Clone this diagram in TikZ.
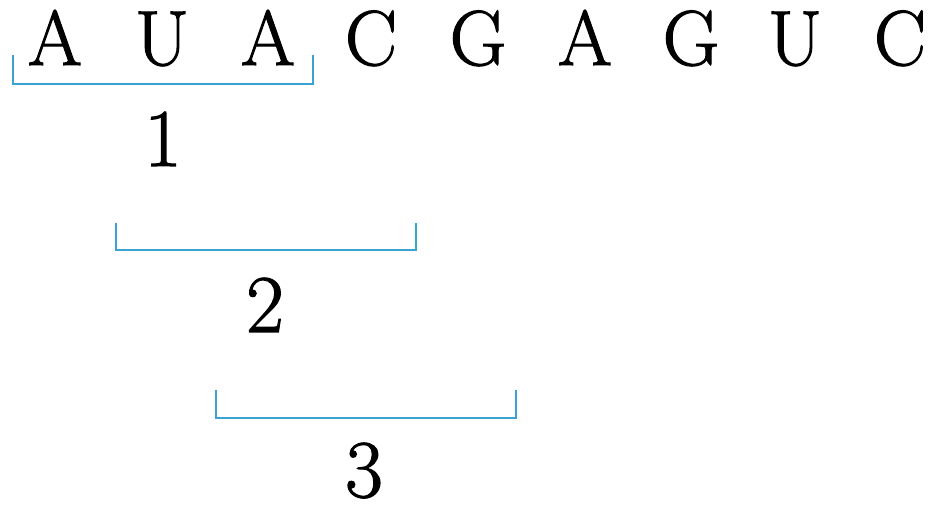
\documentclass[tikz,border=0pt]{standalone}
\usepackage{fontspec}
\usepackage{xcolor}
\newfontfamily\seqfont{Latin Modern Roman}[FakeBold=1.4]
\definecolor{bracketblue}{RGB}{58,163,210}
\begin{document}
\begin{tikzpicture}[x=1pt,y=-1pt,
  base/.style={anchor=base,inner sep=0pt,font=\seqfont\fontsize{78}{90}\selectfont},
  idx/.style={anchor=base,inner sep=0pt,font=\seqfont\fontsize{82}{96}\selectfont},
  bracket/.style={draw=bracketblue,line width=2.9pt,line join=miter}]
\useasboundingbox (0,0) rectangle (930,505);
% RNA sequence
\node[base] (n1) at (55,65) {A};
\node[base] (n2) at (162,65) {U};
\node[base] (n3) at (268,65) {A};
\node[base] (n4) at (371,65) {C};
\node[base] (n5) at (478,65) {G};
\node[base] (n6) at (585,65) {A};
\node[base] (n7) at (691,65) {G};
\node[base] (n8) at (795,65) {U};
\node[base] (n9) at (900,65) {C};
% reading frames
\coordinate (f1a) at (13,55);  \coordinate (f1b) at (13,84);
\coordinate (f1c) at (313,84); \coordinate (f1d) at (313,55);
\coordinate (f2a) at (116,223); \coordinate (f2b) at (116,250);
\coordinate (f2c) at (416,250); \coordinate (f2d) at (416,223);
\coordinate (f3a) at (216,390); \coordinate (f3b) at (216,418);
\coordinate (f3c) at (516,418); \coordinate (f3d) at (516,390);
\draw[bracket] (f1a) -- (f1b) -- (f1c) -- (f1d);
\draw[bracket] (f2a) -- (f2b) -- (f2c) -- (f2d);
\draw[bracket] (f3a) -- (f3b) -- (f3c) -- (f3d);
% frame numbers
\node[idx] (l1) at (163,166) {1};
\node[idx] (l2) at (265,332) {2};
\node[idx] (l3) at (364,497) {3};
\end{tikzpicture}
\end{document}
